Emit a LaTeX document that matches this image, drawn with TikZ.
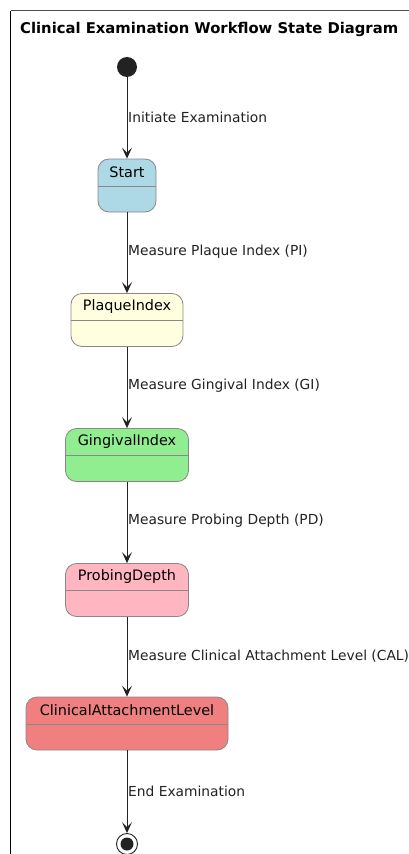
\documentclass[tikz,border=0pt]{standalone}
\usepackage{fontspec}
\setmainfont{DejaVu Sans}
\usetikzlibrary{arrows.meta,calc}
\definecolor{bordergray}{HTML}{888888}
\definecolor{txt}{HTML}{222222}
\tikzset{
  statebox/.style={draw=bordergray, line width=0.8pt, rounded corners=11pt, minimum height=53pt, inner sep=0pt},
  tlabel/.style={font=\fontsize{13.8}{15}\selectfont, text=txt, anchor=west, inner sep=0pt},
  sname/.style={font=\fontsize{14.4}{16}\selectfont, text=black, inner sep=0pt},
  conn/.style={draw=txt, line width=1pt, -{Stealth[length=11pt,width=10pt,inset=5pt]}},
}
\begin{document}
\begin{tikzpicture}[x=1pt,y=-1pt]
\useasboundingbox (0,0) rectangle (409,854);
\fill[white] (0,0) rectangle (409,854);
% frame
\draw[line width=1.5pt, black] (10.5,854) -- (10.5,10.5);
\draw[line width=1.2pt, black!70] (10.5,10.5) -- (409,10.5);
\node[font=\bfseries\fontsize{14.8}{16}\selectfont, anchor=west, inner sep=0pt] (title) at (20,29) {Clinical Examination Workflow State Diagram};
% initial
\node[circle, fill=txt, minimum size=20pt, inner sep=0pt] (init) at (127,67) {};
% states
\newcommand{\statenode}[5]{%
  \node[statebox, fill=#2, minimum width=#3] (#1) at (127,#4) {};
  \draw[bordergray, line width=0.8pt] ($(#1.west)+(0,0.5)$) -- ($(#1.east)+(0,0.5)$);
  \node[sname] (#1t) at ($(#1.north)+(0,13.5)$) {#5};
}
\definecolor{cstart}{HTML}{ADD8E6}
\definecolor{cplaque}{HTML}{FFFFE0}
\definecolor{cging}{HTML}{90EE90}
\definecolor{cprob}{HTML}{FFB6C1}
\definecolor{ccal}{HTML}{F08080}
\statenode{start}{cstart}{58pt}{185.5}{Start}
\statenode{plaque}{cplaque}{112pt}{320}{PlaqueIndex}
\statenode{ging}{cging}{123pt}{455}{GingivalIndex}
\statenode{prob}{cprob}{123pt}{590}{ProbingDepth}
\statenode{cal}{ccal}{202pt}{723.5}{ClinicalAttachmentLevel}
% final
\node[circle, draw=txt, line width=0.9pt, fill=white, minimum size=21pt, inner sep=0pt] (final) at (127,844) {};
\node[circle, fill=txt, minimum size=13pt, inner sep=0pt] (finalin) at (127,844) {};
% connectors
\draw[conn] (init) -- (start.north);
\draw[conn] (start.south) -- (plaque.north);
\draw[conn] (plaque.south) -- (ging.north);
\draw[conn] (ging.south) -- (prob.north);
\draw[conn] (prob.south) -- (cal.north);
\draw[conn] (cal.south) -- (final.north);
% labels
\node[tlabel] (l1) at (128,117) {Initiate Examination};
\node[tlabel] (l2) at (128,252) {Measure Plaque Index (PI)};
\node[tlabel] (l3) at (128,386) {Measure Gingival Index (GI)};
\node[tlabel] (l4) at (128,521) {Measure Probing Depth (PD)};
\node[tlabel] (l5) at (128,656) {Measure Clinical Attachment Level (CAL)};
\node[tlabel] (l6) at (128,791) {End Examination};
\end{tikzpicture}
\end{document}
